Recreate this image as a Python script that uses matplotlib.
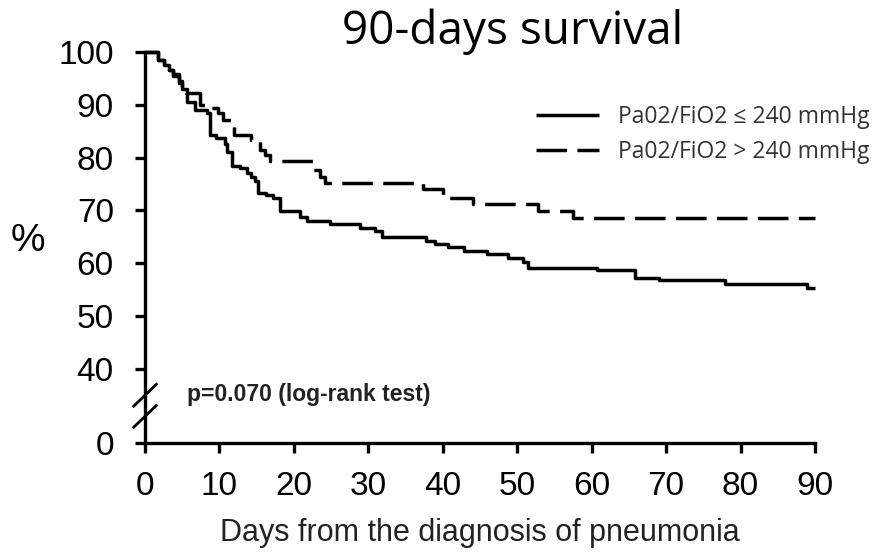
import matplotlib
matplotlib.use("Agg")
import matplotlib.pyplot as plt

# Kaplan-Meier style step data (day, % surviving)
low_days = [0, 1.8, 2.5, 3.2, 3.8, 4.5, 5.0, 5.6, 6.7, 8.3, 8.7, 9.6, 10.7, 11.0, 11.7,
            12.8, 13.7, 14.3, 14.8, 15.2, 16.3, 17.2, 18.1, 20.8, 21.7, 24.9, 28.9,
            30.9, 31.8, 37.8, 39.0, 40.7, 42.8, 45.9, 48.8, 50.8, 51.5, 60.7, 65.8,
            69.0, 77.9, 88.9, 90]
low_surv = [100, 98.5, 97.5, 96.5, 95.5, 94.1, 93.0, 90.6, 89.0, 88.4, 84.3, 83.7, 82.5,
            81.0, 78.5, 78.0, 77.1, 76.3, 75.5, 73.4, 73.0, 72.4, 69.9, 68.7, 68.0,
            67.4, 66.7, 66.1, 65.0, 64.2, 63.6, 63.0, 62.3, 61.7, 61.1, 60.2, 59.2,
            58.7, 57.2, 56.8, 56.0, 55.3, 55.3]

high_days = [0, 1.8, 2.5, 3.2, 3.8, 4.5, 5.0, 5.5, 7.4, 8.5, 9.8, 10.5, 11.9, 14.3, 15.4,
             16.1, 16.8, 22.6, 23.5, 24.2, 37.4, 40.0, 44.0, 52.8, 57.5, 90]
high_surv = [100, 98.5, 97.5, 96.5, 95.8, 94.5, 93.3, 92.2, 90.0, 89.4, 88.4, 87.2, 84.3,
             83.4, 81.5, 80.5, 79.3, 77.7, 76.4, 75.2, 74.0, 72.4, 71.3, 69.9, 68.6, 68.6]

low_label = "Pa02/FiO2 \u2264 240 mmHg"
high_label = "Pa02/FiO2 > 240 mmHg"

x_ticks = [0, 10, 20, 30, 40, 50, 60, 70, 80, 90]
# the y axis is broken: "0" sits at 26 on the drawn scale
y_zero_pos = 26
y_ticks = [y_zero_pos, 40, 50, 60, 70, 80, 90, 100]
y_labels = ["0", "40", "50", "60", "70", "80", "90", "100"]

arial = "Liberation Sans"
calibri = ["Open Sans", "DejaVu Sans"]

fig = plt.figure(figsize=(8.94, 5.57), dpi=100)
ax = fig.add_axes([0.1622, 0.2047, 0.7494, 0.702])

lw = 2.5
ax.step(low_days, low_surv, where="post", color="black", lw=lw, label=low_label,
        clip_on=False, solid_capstyle="butt")
ax.step(high_days, high_surv, where="post", color="black", lw=lw, label=high_label,
        linestyle=(0, (8.8, 3.0)), clip_on=False, dash_capstyle="butt")

ax.set_xlim(0, 90)
ax.set_ylim(y_zero_pos, 100)
ax.set_xticks(x_ticks)
ax.set_yticks(y_ticks)
ax.set_yticklabels(y_labels)

for s in ["top", "right"]:
    ax.spines[s].set_visible(False)
for s in ["left", "bottom"]:
    ax.spines[s].set_linewidth(2.4)
ax.tick_params(axis="both", direction="out", length=7.5, width=2.4,
               labelsize=24)
ax.tick_params(axis="y", pad=15)
ax.tick_params(axis="x", pad=13)
for lab in ax.get_xticklabels() + ax.get_yticklabels():
    lab.set_fontfamily(arial)

# break marks on the y axis
for yc in (0.122, 0.068):
    ax.plot([-0.017, 0.017], [yc - 0.028, yc + 0.028], transform=ax.transAxes,
            color="black", lw=2.0, clip_on=False)

ax.set_xlabel("Days from the diagnosis of pneumonia", fontsize=22,
              fontfamily=arial, color="#222222", labelpad=11)
fig.text(0.031, 0.567, "%", fontsize=28, fontfamily=arial, ha="center", va="center")

fig.text(0.573, 0.921, "90-days survival", fontsize=33, fontfamily=calibri,
         ha="center", va="baseline")

ax.text(5.6, 34.0, "p=0.070 (log-rank test)", fontsize=16.5, fontweight="bold",
        fontfamily=arial, color="#222222", va="baseline")

leg = ax.legend(loc="upper left", bbox_to_anchor=(536 / 894, 1 - 105 / 557),
                bbox_transform=fig.transFigure, frameon=False, borderpad=0,
                borderaxespad=0, handlelength=2.75, handletextpad=0.85,
                labelspacing=0.5, prop={"family": calibri, "size": 16.5})
for t in leg.get_texts():
    t.set_color("#333333")

fig.savefig("out.png", dpi=100)
